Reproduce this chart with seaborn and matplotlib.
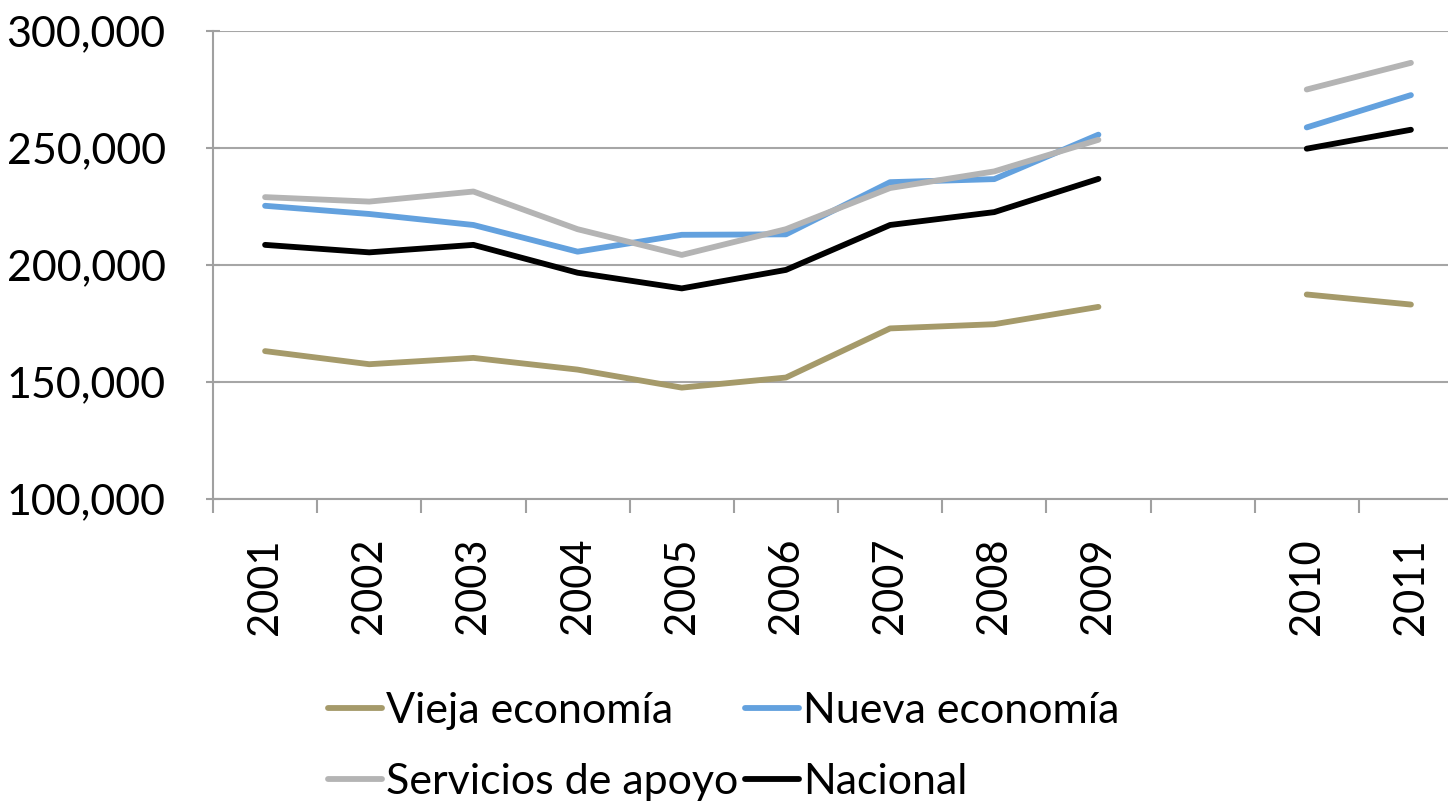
import pandas as pd
import seaborn as sns
import matplotlib.pyplot as plt
from matplotlib.ticker import FuncFormatter

# category slots on the x axis (one empty slot between 2009 and 2010)
slots = ["2001", "2002", "2003", "2004", "2005", "2006", "2007", "2008", "2009", "", "2010", "2011"]
years = ["2001", "2002", "2003", "2004", "2005", "2006", "2007", "2008", "2009", "2010", "2011"]
segment = [1, 1, 1, 1, 1, 1, 1, 1, 1, 2, 2]

vieja = [163200, 157600, 160300, 155300, 147600, 151900, 172900, 174700, 182100, 187400, 183100]
nueva = [225300, 221800, 217100, 205700, 212900, 213100, 235400, 236700, 255700, 258800, 272600]
servicios = [229000, 227100, 231400, 215300, 204300, 215300, 232900, 240000, 253500, 275000, 286400]
nacional = [208600, 205400, 208600, 196700, 190000, 197900, 217100, 222600, 236800, 249700, 257800]

series_names = ["Vieja economía", "Nueva economía", "Servicios de apoyo", "Nacional"]
colors = ["#A59A6A", "#63A1DE", "#B4B4B4", "#000000"]

# Long-form table for seaborn
rows = []
for name, vals in zip(series_names, [vieja, nueva, servicios, nacional]):
    for yr, seg, v in zip(years, segment, vals):
        rows.append({"serie": name, "pos": slots.index(yr), "seg": seg, "valor": v})
df = pd.DataFrame(rows)

sns.set_style("white")
plt.rcParams['font.family'] = ['Lato', 'DejaVu Sans']

fig = plt.figure(figsize=(14.48, 8.05), dpi=100)
ax = fig.add_axes([213 / 1448, 306 / 805, 1250 / 1448, 468 / 805])

sns.lineplot(data=df, x="pos", y="valor", hue="serie", units="seg", estimator=None,
             hue_order=series_names, palette=colors, linewidth=4.2, ax=ax,
             solid_capstyle="round", legend=False)

ax.set_xlim(-0.5, len(slots) - 0.5)
ax.set_ylim(100000, 300000)
ax.set_yticks([100000, 150000, 200000, 250000, 300000])
ax.yaxis.set_major_formatter(FuncFormatter(lambda v, p: f"{v:,.0f}"))

# labels at category centres, tick marks at category boundaries
ax.set_xticks(range(len(slots)))
ax.set_xticklabels(slots, rotation=90)
ax.set_xticks([i - 0.5 for i in range(len(slots) + 1)], minor=True)
ax.tick_params(axis="x", which="major", length=0, pad=28, labelsize=30, labelcolor="black")
ax.tick_params(axis="x", which="minor", length=10, width=1.5, color="#A0A0A0", direction="out")
ax.tick_params(axis="y", length=10, width=1.5, color="#A0A0A0", direction="inout", pad=29,
               labelsize=31, labelcolor="black")
ax.tick_params(axis="y", left=True)
ax.tick_params(axis="x", which="minor", bottom=True)

ax.yaxis.grid(True, color="#A6A6A6", linewidth=1.5)
ax.set_axisbelow(True)
for side in ["top", "right"]:
    ax.spines[side].set_visible(False)
for side in ["left", "bottom"]:
    ax.spines[side].set_color("#A0A0A0")
    ax.spines[side].set_linewidth(1.5)
ax.set_xlabel("")
ax.set_ylabel("")

# legend fills column by column, so order entries to read row by row
order = [0, 2, 1, 3]
handles = [plt.Line2D([], [], color=colors[i], linewidth=4.2) for i in order]
labels = [series_names[i] for i in order]
leg = fig.legend(handles, labels, loc="upper center", bbox_to_anchor=(0.5, 0.188),
                 ncol=2, frameon=False, fontsize=31, handlelength=1.25, handletextpad=0.1,
                 columnspacing=0.15, labelspacing=0.75)
for t in leg.get_texts():
    t.set_color("black")

fig.savefig("out.png", dpi=100)
